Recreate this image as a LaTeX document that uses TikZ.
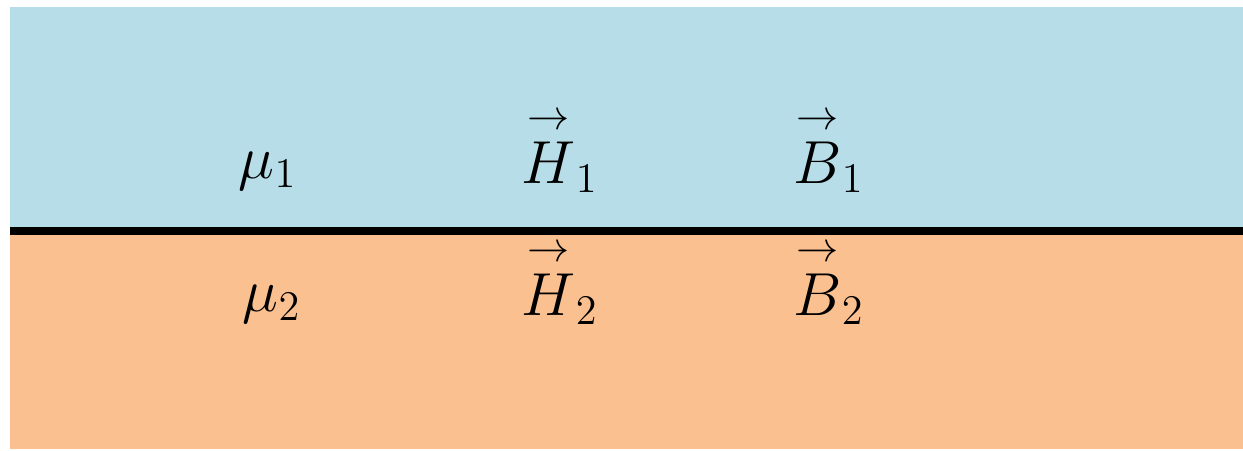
\documentclass[tikz,border=0pt]{standalone}
\usepackage{amsmath}
\usepackage{tikz}
\definecolor{medium1}{HTML}{B7DDE8}
\definecolor{medium2}{HTML}{FAC090}
\newcommand{\fieldvec}[1]{{\overset{\scriptstyle\rightarrow}{#1}}}

\begin{document}
\begin{tikzpicture}[x=0.01cm,y=-0.01cm,
  lbl/.style={anchor=base,inner sep=0pt,font=\fontsize{17}{20}\selectfont}]
\useasboundingbox (0,0) rectangle (1243,450);
\fill[medium1] (10,7) rectangle (1243,231);
\fill[medium2] (10,231) rectangle (1243,449);
\coordinate (L) at (10,231);
\coordinate (R) at (1243,231);
\draw[line width=0.08cm] (L) -- (R);

\node[lbl] (mu1) at (268,178) {$\mu_1$};
\node[lbl] (H1) at (560,183) {$\fieldvec{H}_1$};
\node[lbl] (B1) at (829,183) {$\fieldvec{B}_1$};

\node[lbl] (mu2) at (272,311) {$\mu_2$};
\node[lbl] (H2) at (560,315) {$\fieldvec{H}_2$};
\node[lbl] (B2) at (829,315) {$\fieldvec{B}_2$};
\end{tikzpicture}
\end{document}
